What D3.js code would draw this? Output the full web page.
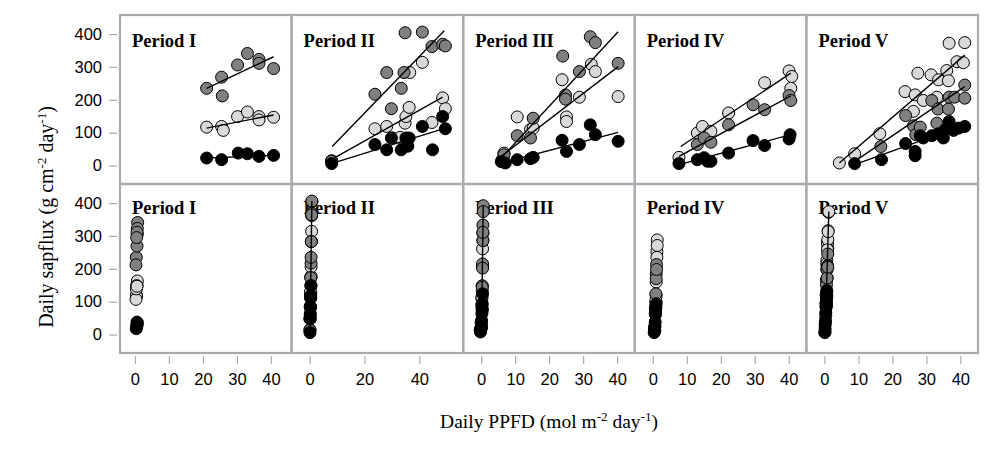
<!DOCTYPE html>
<html>
<head>
<meta charset="utf-8">
<script src="https://cdn.jsdelivr.net/npm/d3@7"></script>
<style>
  body { margin: 0; background: #fff; }
  svg { display: block; }
</style>
</head>
<body>
<svg id="chart" width="998" height="465"></svg>
<script>
// values, one array per period
const periods = ["Period I", "Period II", "Period III", "Period IV", "Period V"];
const yTicks = [0, 100, 200, 300, 400];
const xTicks = [[0, 10, 20, 30, 40], [0, 20, 40], [0, 10, 20, 30, 40], [0, 10, 20, 30, 40], [0, 10, 20, 30, 40]];
const xDomains = [[-4.4, 46.1], [-6.6, 56], [-5.3, 45.2], [-5.3, 45.2], [-5.3, 45.2]];
const yDomain = [-56, 458];

// top row: [PPFD, sapflux]
const blackPts = [
  [[21.1,23],[25.5,18],[30.4,38],[33.1,36],[36.5,28],[40.8,31]],
  [[8,6],[23.8,64],[28.1,48],[29.8,84],[33.4,48],[35.1,84],[35.8,59],[36.3,84],[41.1,119],[44.8,48],[48.5,149],[49.5,112]],
  [[5.9,12],[7.1,8],[10.6,18],[14.5,21],[15.3,25],[23.8,77],[25.1,43],[28.9,64],[32.1,124],[33.6,94],[40.3,74]],
  [[7.7,6],[13.1,18],[15.1,24],[16.1,13],[17.1,13],[22.3,38],[29.5,76],[32.9,61],[40.1,81],[40.4,94]],
  [[8.9,6],[16.8,18],[23.9,67],[26.7,43],[26.7,30],[28.2,91],[29.1,84],[31.6,91],[33.6,97],[35,84],[35.5,109],[36.7,134],[38,107],[39.5,114],[41.3,119]]
];
const greyPts = [
  [[21.1,235],[25.5,269],[25.7,212],[30.2,306],[33.1,341],[36.5,323],[36.5,311],[40.8,295]],
  [[8,13],[23.8,217],[28.1,283],[29.8,173],[33.4,235],[34.4,283],[34.8,404],[41.1,406],[44.6,362],[48.5,369],[49.5,364]],
  [[6.2,18],[6.7,33],[10.6,91],[14.5,84],[15.3,144],[24,333],[24.8,215],[24.8,202],[28.9,286],[32.1,392],[33.6,374],[40.3,311]],
  [[13.1,64],[15.1,84],[17.1,71],[22.3,124],[29.5,185],[32.9,170],[40.1,213],[40.6,198]],
  [[16.6,58],[23.9,152],[26.2,121],[26.9,94],[28.2,117],[31.6,198],[33.1,129],[33.4,172],[36.5,172],[36.7,208],[38.3,208],[41.3,205],[41.3,245]]
];
const lightPts = [
  [[21.1,117],[25.5,119],[26,107],[30.2,149],[33.1,163],[36.5,149],[36.5,139],[40.8,147]],
  [[8,15],[23.8,112],[28.1,119],[30.2,84],[33,86],[34.8,129],[35.1,149],[36.3,177],[36.5,283],[41.1,314],[44.6,131],[48.5,206],[49.5,173]],
  [[6.7,38],[10.6,148],[14.5,110],[15.3,114],[23.8,261],[25.1,148],[25.1,134],[28.9,208],[32.4,308],[33.6,286],[40.3,210]],
  [[7.7,25],[13.1,99],[14.6,119],[17.1,104],[22.3,160],[32.9,252],[40.1,288],[40.9,271],[40.6,235]],
  [[4.4,8],[8.9,36],[16.3,97],[23.7,225],[26.2,165],[26.7,215],[27.5,281],[29.1,198],[31.4,276],[33.1,208],[33.6,261],[36,289],[36.5,258],[36.7,372],[39,316],[40.9,313],[41.3,374]]
];

// bottom row: x of the same points (sapflux values are shared with the top row)
const blackBx = [
  [0.5,0.4,0.6,0.7,0.6,0.6],
  [0.1,0.2,0.1,0.3,0.2,0.3,0.2,0.3,0.4,0.1,0.5,0.4],
  [-0.3,-0.2,0,0,0.1,0.3,0.1,0.2,0.4,0.3,0.3],
  [0.4,0.5,0.6,0.5,0.6,0.7,0.8,0.8,0.9,1.0],
  [0.1,0.2,0.4,0.3,0.2,0.5,0.5,0.6,0.6,0.5,0.6,0.7,0.6,0.7,0.7]
];
const greyBx = [
  [0.4,0.6,0.3,0.7,0.8,0.7,0.6,0.5],
  [0.1,0.5,0.6,0.4,0.5,0.6,0.8,0.8,0.7,0.7,0.7],
  [-0.2,0,0.2,0.2,0.3,0.5,0.4,0.4,0.5,0.6,0.6,0.5],
  [0.7,0.8,0.8,0.9,1.0,1.0,1.1,1.1],
  [0.4,0.6,0.5,0.5,0.6,0.8,0.7,0.8,0.8,0.9,0.9,1.0,1.0]
];
const lightBx = [
  [0.5,0.4,0.3,0.6,0.7,0.5,0.4,0.6],
  [0.1,0.3,0.3,0.2,0.2,0.4,0.4,0.5,0.6,0.7,0.3,0.5,0.4],
  [0,0.3,0.2,0.2,0.4,0.3,0.3,0.4,0.5,0.5,0.4],
  [0.6,0.9,1.0,0.9,1.0,1.2,1.3,1.3,1.2],
  [0.2,0.3,0.5,0.7,0.6,0.7,0.9,0.7,0.9,0.8,1.0,1.0,0.9,1.2,1.1,1.1,1.3]
];

// fitted lines [x1, y1, x2, y2]
const blackFit = [[21.1,23,40.8,31],[7.9,6,49.5,114],[6.7,10,40.3,101],[7.7,3,40.6,94],[8.9,3,41.3,124]];
const greyFit  = [[21.1,235,40.8,331],[8.2,58,49.1,410],[5.9,23,40.3,407],[7.7,28,40.6,212],[8.9,13,41.3,240]];
const lightFit = [[21.1,114,40.8,154],[7.9,18,48.5,208],[5.9,28,40.3,301],[8.2,58,40.6,281],[4.4,8,41.3,336]];
const bottomFit = [null, [0.1,0,0.8,406], [0.1,30,0.6,392], null, [0.2,0,1.3,374]];

const series = [
  {pts: lightPts, bx: lightBx, fit: lightFit, fill: "#d9d9d9"},
  {pts: greyPts, bx: greyBx, fit: greyFit, fill: "#808080"},
  {pts: blackPts, bx: blackBx, fit: blackFit, fill: "#000"}
];

const svg = d3.select("#chart");
const panelLeft = 120, panelTop = 15, panelW = 171.6, panelH = 169;
const frame = "#a7aaae";
const sans = "'Liberation Sans', Arial, sans-serif";
const serif = "'Liberation Serif', 'Times New Roman', serif";

for (let row = 0; row < 2; row++) {
  const y0 = panelTop + row * panelH;
  const yScale = d3.scaleLinear().domain(yDomain).range([y0 + panelH, y0]);

  // y axis on the left of each row
  const yAxisG = svg.append("g").attr("transform", "translate(" + (panelLeft - 3) + ",0)");
  yAxisG.call(d3.axisLeft(yScale).tickValues(yTicks).tickSize(8).tickPadding(7));
  yAxisG.select(".domain").remove();
  yAxisG.selectAll("line").attr("stroke", frame).attr("stroke-width", 1.2);
  yAxisG.selectAll("text").attr("font-family", sans).attr("font-size", 16.5).attr("fill", "#000");

  for (let p = 0; p < 5; p++) {
    const x0 = panelLeft + p * panelW;
    const xScale = d3.scaleLinear().domain(xDomains[p]).range([x0, x0 + panelW]);
    const g = svg.append("g");

    g.append("text")
      .attr("x", x0 + 12).attr("y", y0 + (row == 0 ? 32 : 30))
      .attr("font-family", serif).attr("font-weight", "bold").attr("font-size", 18.5)
      .text(periods[p]);

    series.forEach(function(s) {
      const data = s.pts[p].map(function(d, i) {
        return {x: row == 0 ? d[0] : s.bx[p][i], y: d[1]};
      });
      g.selectAll(null).data(data).enter().append("circle")
        .attr("cx", d => xScale(d.x))
        .attr("cy", d => yScale(d.y))
        .attr("r", 6)
        .attr("fill", s.fill)
        .attr("stroke", "#000")
        .attr("stroke-width", 1);
    });

    const fits = row == 0 ? series.map(s => s.fit[p]) : [bottomFit[p]];
    fits.forEach(function(f) {
      if (!f) return;
      g.append("line")
        .attr("x1", xScale(f[0])).attr("y1", yScale(f[1]))
        .attr("x2", xScale(f[2])).attr("y2", yScale(f[3]))
        .attr("stroke", "#000").attr("stroke-width", 1.4);
    });

    g.append("rect")
      .attr("x", x0).attr("y", y0).attr("width", panelW).attr("height", panelH)
      .attr("fill", "none").attr("stroke", frame).attr("stroke-width", 2.2);

    if (row == 1) {
      const xAxisG = svg.append("g").attr("transform", "translate(0," + (y0 + panelH + 3) + ")");
      xAxisG.call(d3.axisBottom(xScale).tickValues(xTicks[p]).tickSize(8).tickPadding(9));
      xAxisG.select(".domain").remove();
      xAxisG.selectAll("line").attr("stroke", frame).attr("stroke-width", 1.2);
      xAxisG.selectAll("text").attr("font-family", sans).attr("font-size", 16.5).attr("fill", "#000");
    }
  }
}

// axis titles
const yTitle = svg.append("text")
  .attr("transform", "translate(53,217) rotate(-90)")
  .attr("text-anchor", "middle")
  .attr("font-family", serif).attr("font-size", 20);
yTitle.append("tspan").text("Daily sapflux (g cm");
yTitle.append("tspan").attr("dy", -7).attr("font-size", 13).text("-2");
yTitle.append("tspan").attr("dy", 7).text(" day");
yTitle.append("tspan").attr("dy", -7).attr("font-size", 13).text("-1");
yTitle.append("tspan").attr("dy", 7).text(")");

const xTitle = svg.append("text")
  .attr("x", 549).attr("y", 428)
  .attr("text-anchor", "middle")
  .attr("font-family", serif).attr("font-size", 19.5);
xTitle.append("tspan").text("Daily PPFD (mol m");
xTitle.append("tspan").attr("dy", -7).attr("font-size", 13).text("-2");
xTitle.append("tspan").attr("dy", 7).text(" day");
xTitle.append("tspan").attr("dy", -7).attr("font-size", 13).text("-1");
xTitle.append("tspan").attr("dy", 7).text(")");
</script>
</body>
</html>
